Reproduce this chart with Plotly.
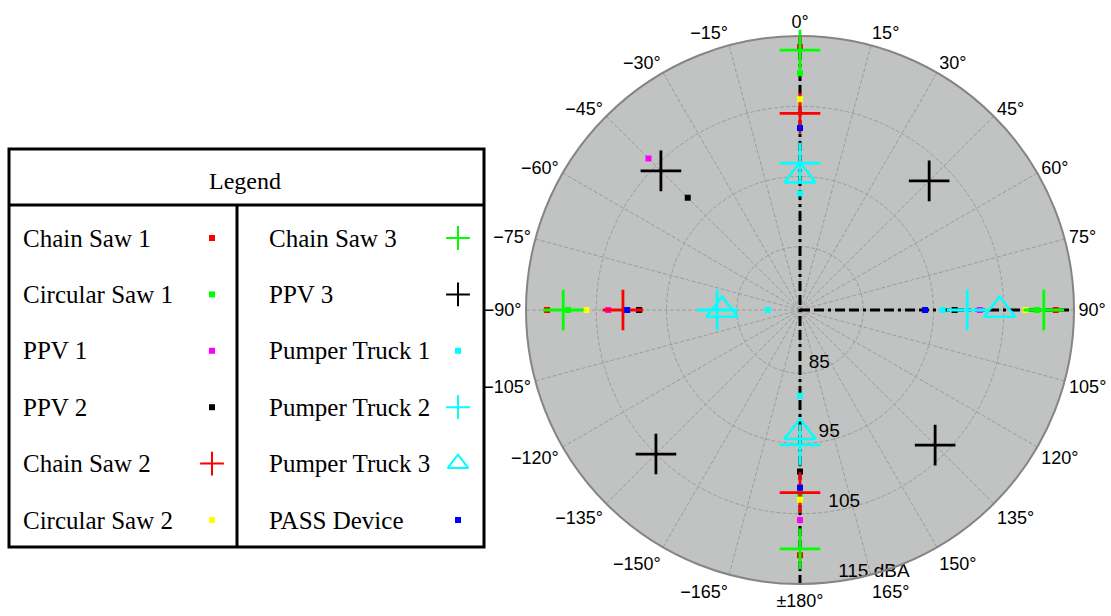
import plotly.graph_objects as go

# ---------------- data (dBA vs. measurement angle) ----------------
SERIES_NAMES = ["Chain Saw 1", "Circular Saw 1", "PPV 1", "PPV 2", "Chain Saw 2", "Circular Saw 2",
                "Chain Saw 3", "PPV 3", "Pumper Truck 1", "Pumper Truck 2", "Pumper Truck 3", "PASS Device"]

CHAIN_SAW_1_THETA = [0, 90, 180, -90]
CHAIN_SAW_1_DBA = [113.4, 112.4, 110.9, 112.0]
CIRCULAR_SAW_1_THETA = [0, 90, 180, -90]
CIRCULAR_SAW_1_DBA = [109.7, 109.7, 102.5, 109.0]
PPV_1_THETA = [-45, 90, 180, -90]
PPV_1_DBA = [106.5, 101.6, 105.9, 103.3]
PPV_2_THETA = [-45, 90, 180, -90]
PPV_2_DBA = [98.6, 98.0, 99.0, 98.9]
CHAIN_SAW_2_THETA = [0, 180, -90]
CHAIN_SAW_2_DBA = [104.0, 102.0, 101.2]
CIRCULAR_SAW_2_THETA = [0, 90, 180, -90]
CIRCULAR_SAW_2_DBA = [106.0, 108.1, 103.0, 106.4]
CHAIN_SAW_3_THETA = [0, 90, 180, -90]
CHAIN_SAW_3_DBA = [113.0, 110.7, 110.0, 109.7]
PPV_3_THETA = [-45, 45, 135, -135]
PPV_3_DBA = [104.0, 102.0, 103.2, 105.0]
PUMPER_TRUCK_1_THETA = [0, 90, 180, -90]
PUMPER_TRUCK_1_DBA = [92.6, 96.3, 88.2, 80.6]
PUMPER_TRUCK_2_THETA = [0, 90, 180, -90]
PUMPER_TRUCK_2_DBA = [96.9, 99.8, 95.2, 87.8]
PUMPER_TRUCK_3_THETA = [0, 90, 180, -90]
PUMPER_TRUCK_3_DBA = [95.1, 104.4, 93.4, 87.1]
PASS_DEVICE_THETA = [0, 90, 180, -90]
PASS_DEVICE_DBA = [101.9, 93.8, 101.3, 100.6]

SERIES_THETA = [CHAIN_SAW_1_THETA, CIRCULAR_SAW_1_THETA, PPV_1_THETA, PPV_2_THETA, CHAIN_SAW_2_THETA,
                CIRCULAR_SAW_2_THETA, CHAIN_SAW_3_THETA, PPV_3_THETA, PUMPER_TRUCK_1_THETA,
                PUMPER_TRUCK_2_THETA, PUMPER_TRUCK_3_THETA, PASS_DEVICE_THETA]
SERIES_DBA = [CHAIN_SAW_1_DBA, CIRCULAR_SAW_1_DBA, PPV_1_DBA, PPV_2_DBA, CHAIN_SAW_2_DBA,
              CIRCULAR_SAW_2_DBA, CHAIN_SAW_3_DBA, PPV_3_DBA, PUMPER_TRUCK_1_DBA,
              PUMPER_TRUCK_2_DBA, PUMPER_TRUCK_3_DBA, PASS_DEVICE_DBA]

# radial axis
R_MIN = 76
R_MAX = 115
R_TICKS = [85, 95, 105, 115]
R_TICK_TEXT = ["85", "95", "105", "115 dBA"]

# angular axis
ANGLE_TICKS = [0, 15, 30, 45, 60, 75, 90, 105, 120, 135, 150, 165,
               180, 195, 210, 225, 240, 255, 270, 285, 300, 315, 330, 345]
ANGLE_TEXT = ["0°", "15°", "30°", "45°", "60°", "75°", "90°", "105°", "120°", "135°", "150°", "165°",
              "±180°", "−165°", "−150°", "−135°", "−120°", "−105°", "−90°", "−75°", "−60°", "−45°",
              "−30°", "−15°"]

# reference axis lines (dash-dot)
AXIS_LINE_V_THETA = [0, 0, 180]
AXIS_LINE_V_R = [R_MAX, R_MIN, R_MAX]
AXIS_LINE_H_THETA = [90, 90]
AXIS_LINE_H_R = [R_MIN, R_MAX]

# ---------------- styles ----------------
COLORS = ["#ff0000", "#00ff00", "#ff00ff", "#000000", "#ff0000", "#ffff00",
          "#00ff00", "#000000", "#00ffff", "#00ffff", "#00ffff", "#0000ff"]
SYMBOLS = ["circle", "circle", "circle", "circle", "cross-thin", "circle",
           "cross-thin", "cross-thin", "circle", "cross-thin", "triangle-up-open", "circle"]


def marker_style(i, big=True):
    sym = SYMBOLS[i]
    if sym == "circle":
        return dict(symbol="square", size=6, color=COLORS[i], line=dict(width=0))
    if sym == "cross-thin":
        return dict(symbol="cross-thin", size=(29 if big else 17), color=COLORS[i],
                    line=dict(width=2.8 if big else 2, color=COLORS[i]))
    return dict(symbol="triangle-up-open", size=(27 if big else 18), color=COLORS[i],
                line=dict(width=2.5 if big else 2, color=COLORS[i]))


fig = go.Figure()

dash_pat = "10px,4px,10px,4px,3px,4px"
fig.add_trace(go.Scatterpolar(r=AXIS_LINE_V_R, theta=AXIS_LINE_V_THETA, mode="lines",
                              line=dict(color="black", width=3, dash=dash_pat),
                              showlegend=False, hoverinfo="skip"))
fig.add_trace(go.Scatterpolar(r=AXIS_LINE_H_R, theta=AXIS_LINE_H_THETA, mode="lines",
                              line=dict(color="black", width=3, dash=dash_pat),
                              showlegend=False, hoverinfo="skip"))

for i, name in enumerate(SERIES_NAMES):
    fig.add_trace(go.Scatterpolar(r=SERIES_DBA[i], theta=SERIES_THETA[i], mode="markers",
                                  name=name, marker=marker_style(i, True), showlegend=False))

# radial tick labels
fig.add_trace(go.Scatterpolar(r=R_TICKS, theta=[172] * len(R_TICKS), mode="text",
                              text=R_TICK_TEXT, textposition="top right",
                              textfont=dict(family="Liberation Sans", size=19, color="black"),
                              showlegend=False, hoverinfo="skip"))

# ---------------- legend table (cartesian helper axes) ----------------
W, H = 1111, 616
COL_PX = [212, 458]
ROW0_PX, ROW_STEP = 238, 56.4
COL_STEP = COL_PX[1] - COL_PX[0]
x_dom = [0, 490 / W]
x_range = [-COL_PX[0] / COL_STEP, -COL_PX[0] / COL_STEP + 490 / COL_STEP]
y_range = [(H - ROW0_PX) / ROW_STEP, -ROW0_PX / ROW_STEP]

for i, name in enumerate(SERIES_NAMES):
    col, row = i // 6, i % 6
    fig.add_trace(go.Scatter(x=[col], y=[row], mode="markers", marker=marker_style(i, False),
                             showlegend=False, hoverinfo="skip", xaxis="x", yaxis="y"))
    fig.add_annotation(x=col - (COL_PX[0] - 21) / COL_STEP, y=row, xref="x", yref="y",
                       text=name, showarrow=False, xanchor="left", yanchor="middle",
                       font=dict(family="Liberation Serif", size=25, color="black"))

fig.add_annotation(x=245 / W, y=1 - 181 / H, xref="paper", yref="paper", text="Legend",
                   showarrow=False, xanchor="center", yanchor="middle",
                   font=dict(family="Liberation Serif", size=24, color="black"))


def px2x(p):
    return p / W


def px2y(p):
    return 1 - p / H


LINE = dict(color="black", width=3)
fig.add_shape(type="rect", xref="paper", yref="paper", x0=px2x(9), x1=px2x(484),
              y0=px2y(149), y1=px2y(547), line=LINE)
fig.add_shape(type="line", xref="paper", yref="paper", x0=px2x(9), x1=px2x(484),
              y0=px2y(205), y1=px2y(205), line=LINE)
fig.add_shape(type="line", xref="paper", yref="paper", x0=px2x(237), x1=px2x(237),
              y0=px2y(205), y1=px2y(547), line=LINE)

# ---------------- layout ----------------
cx, cy, rad = 800, 310, 274
fig.update_layout(
    width=W, height=H,
    margin=dict(l=0, r=0, t=0, b=0, autoexpand=False),
    paper_bgcolor="white", plot_bgcolor="rgba(0,0,0,0)",
    font=dict(family="Liberation Sans", size=19, color="black"),
    showlegend=False,
    xaxis=dict(domain=x_dom, range=x_range, visible=False, fixedrange=True),
    yaxis=dict(domain=[0, 1], range=y_range, visible=False, fixedrange=True),
    polar=dict(
        domain=dict(x=[(cx - rad) / W, (cx + rad) / W], y=[1 - (cy + rad) / H, 1 - (cy - rad) / H]),
        bgcolor="#c0c3c1",
        radialaxis=dict(range=[R_MIN, R_MAX], tickvals=R_TICKS, showticklabels=False, ticks="",
                        showline=False, gridcolor="#9a9d9b", griddash="4px,2px", gridwidth=1.3),
        angularaxis=dict(rotation=90, direction="clockwise", tickmode="array",
                         tickvals=ANGLE_TICKS, ticktext=ANGLE_TEXT, ticks="",
                         showline=True, linecolor="#858585", linewidth=2,
                         gridcolor="#9a9d9b", griddash="4px,2px", gridwidth=1.3,
                         tickfont=dict(family="Liberation Sans", size=18, color="black")),
    ),
)

fig.write_html("out.html", config={"displayModeBar": False},
               post_script="document.body.style.margin='0';")
